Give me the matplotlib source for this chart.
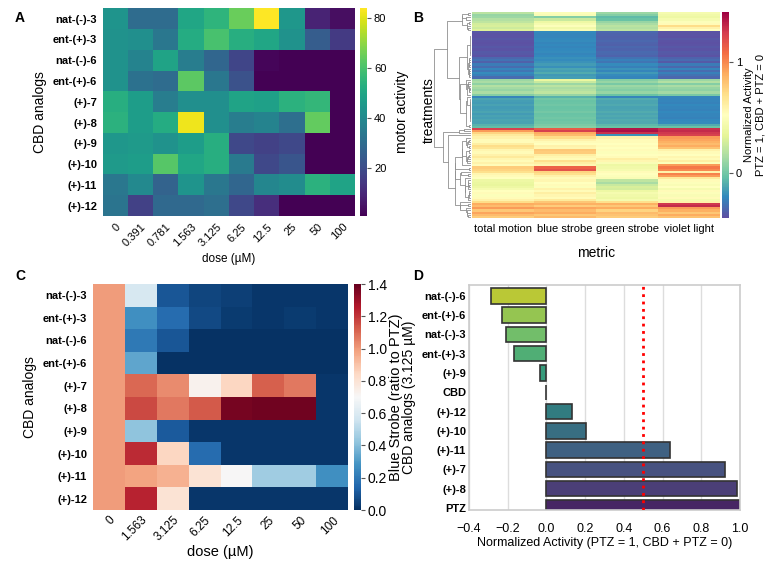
import colorsys
import numpy as np
import matplotlib
matplotlib.use("Agg")
import matplotlib.pyplot as plt

plt.rcParams['font.family'] = ['Liberation Sans', 'DejaVu Sans']

# ---- panel A: motor activity per analog and dose
analogs = ['nat-(-)-3', 'ent-(+)-3', 'nat-(-)-6', 'ent-(+)-6', '(+)-7',
           '(+)-8', '(+)-9', '(+)-10', '(+)-11', '(+)-12']
doses_a = ['0', '0.391', '0.781', '1.563', '3.125', '6.25', '12.5', '25', '50', '100']
motor = [
    [44, 30, 30, 50, 55, 65, 84, 45, 9, 4],
    [43, 42, 34, 52, 60, 53, 50, 43, 25, 15],
    [43, 38, 49, 36, 28, 18, 2, 1, 1, 1],
    [43, 32, 30, 63, 34, 22, 1, 1, 1, 1],
    [53, 47, 36, 42, 42, 49, 48, 54, 56, 1],
    [54, 47, 52, 82, 42, 36, 38, 31, 64, 1],
    [45, 46, 43, 47, 53, 19, 17, 19, 1, 1],
    [46, 47, 62, 50, 53, 35, 19, 23, 1, 1],
    [34, 40, 27, 44, 34, 28, 39, 41, 54, 49],
    [33, 17, 29, 29, 31, 19, 12, 1, 1, 1],
]

# ---- panel C: blue strobe ratio to PTZ
doses_c = ['0', '1.563', '3.125', '6.25', '12.5', '25', '50', '100']
blue_ratio = [
    [1.0, 0.58, 0.10, 0.06, 0.04, 0.02, 0.02, 0.02],
    [1.0, 0.27, 0.16, 0.07, 0.03, 0.02, 0.03, 0.02],
    [1.0, 0.20, 0.10, 0.01, 0.01, 0.01, 0.01, 0.01],
    [1.0, 0.33, 0.01, 0.01, 0.01, 0.01, 0.01, 0.01],
    [1.0, 1.10, 1.03, 0.73, 0.85, 1.12, 1.07, 0.02],
    [1.0, 1.16, 1.07, 1.13, 1.37, 1.38, 1.38, 0.02],
    [1.0, 0.42, 0.11, 0.02, 0.02, 0.02, 0.02, 0.02],
    [1.0, 1.22, 0.85, 0.16, 0.02, 0.02, 0.02, 0.02],
    [1.0, 0.98, 0.95, 0.80, 0.70, 0.45, 0.45, 0.27],
    [1.0, 1.24, 0.80, 0.02, 0.02, 0.02, 0.02, 0.02],
]

# ---- panel B: normalized activity per treatment (rows top to bottom)
metrics = ['total motion', 'blue strobe', 'green strobe', 'violet light']
norm_rows = [
    [0.20, 0.50, 0.12, 0.45], [0.10, 0.48, 0.05, 0.42], [0.12, 0.05, -0.05, 0.40],
    [0.18, 0.25, -0.02, 0.45], [0.22, 0.40, 0.10, 0.50], [0.28, 0.45, 0.15, 0.55],
    [0.30, 0.50, 0.20, 0.72], [0.26, 0.42, 0.18, 0.60], [0.32, 0.48, 0.22, 0.52],
    [-0.37, -0.21, -0.32, -0.38], [-0.38, -0.22, -0.33, -0.38], [-0.38, -0.22, -0.34, -0.39],
    [-0.37, -0.21, -0.33, -0.37], [-0.38, -0.20, -0.32, -0.38], [-0.39, -0.22, -0.33, -0.39],
    [-0.38, -0.21, -0.34, -0.38], [-0.37, -0.22, -0.32, -0.37], [-0.38, -0.21, -0.33, -0.38],
    [-0.36, -0.20, -0.31, -0.36], [-0.37, -0.22, -0.32, -0.37], [-0.38, -0.21, -0.33, -0.38],
    [-0.32, -0.19, -0.28, -0.33], [-0.28, -0.20, -0.24, -0.30], [-0.34, -0.18, -0.27, -0.36],
    [-0.25, -0.15, -0.20, -0.25], [-0.30, -0.19, -0.24, -0.32], [-0.22, -0.12, -0.18, -0.22],
    [-0.27, -0.14, -0.22, -0.30], [-0.20, -0.10, -0.16, -0.24], [-0.24, -0.16, -0.20, -0.28],
    [-0.30, -0.14, -0.22, -0.32],
    [0.12, 0.38, 0.05, 0.12], [0.15, 0.25, 0.10, 0.18], [0.08, 0.12, 0.02, 0.05],
    [0.18, 0.20, 0.12, 0.15], [0.14, 0.15, 0.08, 0.10], [0.10, 0.18, 0.05, 0.08],
    [0.16, 0.22, 0.10, 0.14], [0.05, 0.10, -0.02, 0.02], [-0.22, -0.08, -0.22, -0.22],
    [-0.12, 0.00, -0.10, -0.22], [-0.14, -0.02, -0.12, -0.22], [-0.15, -0.01, -0.12, -0.23],
    [-0.13, 0.00, -0.11, -0.21], [-0.15, -0.02, -0.13, -0.22], [-0.14, -0.01, -0.12, -0.23],
    [-0.12, 0.01, -0.10, -0.21], [-0.15, -0.02, -0.12, -0.22], [-0.13, -0.01, -0.11, -0.22],
    [-0.14, 0.00, -0.12, -0.23], [-0.12, -0.01, -0.10, -0.21], [-0.13, 0.00, -0.11, -0.20],
    [-0.08, 0.03, -0.06, -0.10], [-0.04, 0.06, -0.02, -0.02],
    [1.25, 1.15, 1.38, 1.30], [0.95, 1.25, 1.40, 1.32], [0.75, 0.90, 1.30, 1.28],
    [0.65, 0.85, -0.18, 1.25],
    [0.60, 0.72, 0.60, 0.95], [0.55, 0.60, 0.55, 0.92], [0.55, 0.55, 0.55, 0.88],
    [0.62, 0.52, 0.52, 0.85], [0.72, 0.60, 0.55, 0.90], [0.68, 0.58, 0.52, 0.82],
    [0.58, 0.80, 0.55, 0.60], [0.55, 0.78, 0.50, 0.55], [0.60, 0.62, 0.52, 0.52],
    [0.65, 0.58, 0.55, 0.58], [0.58, 0.55, 0.62, 0.55], [0.55, 0.70, 0.58, 0.62],
    [0.60, 0.62, 0.48, 0.50], [0.55, 0.58, 0.40, 0.95], [0.78, 1.12, 0.42, 1.05],
    [0.75, 1.18, 0.45, 1.00], [0.70, 0.75, 0.55, 0.60], [0.58, 0.70, 0.52, 1.02],
    [0.55, 0.60, 0.50, 0.95], [0.52, 0.55, 0.48, 0.65], [0.40, 0.58, 0.22, 0.55],
    [0.38, 0.52, 0.15, 0.50], [0.36, 0.55, 0.25, 0.48], [0.40, 0.50, 0.30, 0.52],
    [0.45, 0.60, 0.28, 0.45], [0.52, 0.55, 0.40, 0.55], [0.55, 0.62, 0.45, 0.50],
    [0.50, 0.58, 0.42, 0.48], [0.55, 0.55, 0.40, 0.55], [0.60, 0.65, 0.45, 0.45],
    [0.72, 0.80, 0.70, 0.60], [0.90, 0.88, 0.88, 1.28], [0.85, 0.78, 0.80, 1.32],
    [0.95, 0.92, 0.90, 0.95], [0.80, 0.85, 0.75, 0.88], [0.92, 0.90, 0.85, 0.80],
    [0.85, 0.80, 0.82, 0.90], [0.78, 0.85, 0.78, 0.82],
]

# ---- panel D: normalized activity at 3.125 uM
d_labels = ['nat-(-)-6', 'ent-(+)-6', 'nat-(-)-3', 'ent-(+)-3', '(+)-9', 'CBD',
            '(+)-12', '(+)-10', '(+)-11', '(+)-7', '(+)-8', 'PTZ']
d_values = [-0.285, -0.228, -0.207, -0.166, -0.034, -0.002,
            0.13, 0.207, 0.639, 0.92, 0.987, 1.0]

W, H = 773, 562


def box(x0, y0, x1, y1):
    return [x0 / W, 1 - y1 / H, (x1 - x0) / W, (y1 - y0) / H]


def heat(ax, cax, values, cmap, xlabels, ylabels, vmin=None, vmax=None):
    arr = np.array(values)
    m = ax.pcolormesh(arr, cmap=cmap, vmin=vmin, vmax=vmax)
    ax.set_xlim(0, arr.shape[1])
    ax.set_ylim(arr.shape[0], 0)
    ax.set_xticks(np.arange(arr.shape[1]) + 0.5)
    ax.set_xticklabels(xlabels)
    ax.set_yticks(np.arange(arr.shape[0]) + 0.5)
    ax.set_yticklabels(ylabels, fontweight='bold', fontsize=8)
    ax.tick_params(length=0, pad=4)
    for s in ax.spines.values():
        s.set_visible(False)
    cb = fig.colorbar(m, cax=cax)
    cb.outline.set_visible(False)
    cb.ax.tick_params(length=3, width=0.8, color='#555555', pad=2)
    return cb


def dendro(ax, data):
    dist = np.sqrt(((data[:, None, :] - data[None, :, :]) ** 2).sum(-1))
    groups = [[i] for i in range(len(data))]
    pos = [i + 0.5 for i in range(len(data))]
    hgt = [0.0] * len(data)
    while len(groups) > 1:
        d = [dist[np.ix_(groups[k], groups[k + 1])].mean() for k in range(len(groups) - 1)]
        k = int(np.argmin(d))
        h = max(d[k], hgt[k], hgt[k + 1])
        ax.plot([hgt[k], h, h, hgt[k + 1]], [pos[k], pos[k], pos[k + 1], pos[k + 1]],
                color='#8f8f8f', lw=0.6)
        groups[k:k + 2] = [groups[k] + groups[k + 1]]
        pos[k:k + 2] = [(pos[k] + pos[k + 1]) / 2]
        hgt[k:k + 2] = [h]
    return hgt[0]


fig = plt.figure(figsize=(W / 100, H / 100), dpi=100)

# A
axa = fig.add_axes(box(102.7, 8.3, 355, 216))
caxa = fig.add_axes(box(359.5, 8.3, 367, 216))
cba = heat(axa, caxa, motor, 'viridis', doses_a, analogs)
for t in axa.get_xticklabels():
    t.set_rotation(45)
    t.set_ha('right')
    t.set_rotation_mode('anchor')
    t.set_fontsize(8)
axa.set_xlabel('dose (µM)', fontsize=8.5, labelpad=3)
axa.set_ylabel('CBD analogs', fontsize=10)
cba.set_ticks([20, 40, 60, 80])
cba.ax.tick_params(labelsize=8)
cba.set_label('motor activity', fontsize=10, labelpad=6)

# B
norm = np.array(norm_rows)
axden = fig.add_axes(box(425, 12, 471, 218))
root = dendro(axden, norm)
axden.set_xlim(root * 1.25, 0)
axden.set_ylim(len(norm), 0)
axden.axis('off')
axb = fig.add_axes(box(472, 12, 720, 218))
caxb = fig.add_axes(box(722, 12, 729, 218))
cbb = heat(axb, caxb, norm, 'Spectral_r', metrics, [], vmin=-0.4, vmax=1.45)
axb.set_yticks([])
axb.tick_params(axis='x', labelsize=8, pad=4)
axb.set_xlabel('metric', fontsize=10, labelpad=9)
cbb.set_ticks([0, 1])
cbb.ax.tick_params(labelsize=8)
cbb.set_label('Normalized Activity\nPTZ = 1, CBD + PTZ = 0', fontsize=8, labelpad=1)
fig.text(429 / W, 1 - 110 / H, 'treatments', rotation=90, fontsize=10,
         ha='center', va='center')

# C
axc = fig.add_axes(box(92.7, 284, 348.3, 510))
caxc = fig.add_axes(box(354, 284, 361, 510))
cbc = heat(axc, caxc, blue_ratio, 'RdBu_r', doses_c, analogs, vmin=0, vmax=1.4)
for t in axc.get_xticklabels():
    t.set_rotation(45)
    t.set_ha('right')
    t.set_rotation_mode('anchor')
    t.set_fontsize(8.5)
axc.tick_params(axis='x', pad=3)
axc.set_xlabel('dose (µM)', fontsize=10.5, labelpad=1)
axc.set_ylabel('CBD analogs', fontsize=10)
cbc.set_ticks(np.arange(0, 1.41, 0.2))
cbc.ax.tick_params(labelsize=10)
cbc.set_label('Blue Strobe (ratio to PTZ)', fontsize=10.5, labelpad=1)

# D
axd = fig.add_axes(box(469, 285, 740, 510))
base = plt.get_cmap('viridis')(np.linspace(0, 1, len(d_labels) + 2)[1:-1])[::-1]
cols = []
for c in base:
    h, l, s = colorsys.rgb_to_hls(*c[:3])
    cols.append(colorsys.hls_to_rgb(h, l, s * 0.75))
y = np.arange(len(d_labels))
axd.barh(y, d_values, height=0.8, color=cols, edgecolor='#333333', linewidth=1.2, zorder=2)
axd.axvline(0.5, color='red', ls=':', lw=2, zorder=3)
axd.set_xlim(-0.4, 1.0)
axd.set_ylim(11.1, -0.56)
axd.set_xticks(np.arange(-0.4, 1.01, 0.2))
axd.set_yticks(y)
axd.set_yticklabels(d_labels, fontweight='bold', fontsize=8)
axd.tick_params(length=0, pad=2)
axd.tick_params(axis='x', labelsize=9, pad=9)
axd.grid(axis='x', color='#dddddd', lw=1)
axd.set_axisbelow(True)
for s in axd.spines.values():
    s.set_color('#cccccc')
    s.set_linewidth(1.2)
axd.set_xlabel('Normalized Activity (PTZ = 1, CBD + PTZ = 0)', fontsize=9, labelpad=2)
axd.set_ylabel('CBD analogs (3.125 µM)', fontsize=10)

for lab, x, yy in [('A', 15, 11), ('B', 413, 11), ('C', 15, 269), ('D', 413, 269)]:
    fig.text(x / W, 1 - yy / H, lab, fontsize=10, fontweight='bold', va='top', ha='left')

fig.savefig('out.png', dpi=100)
